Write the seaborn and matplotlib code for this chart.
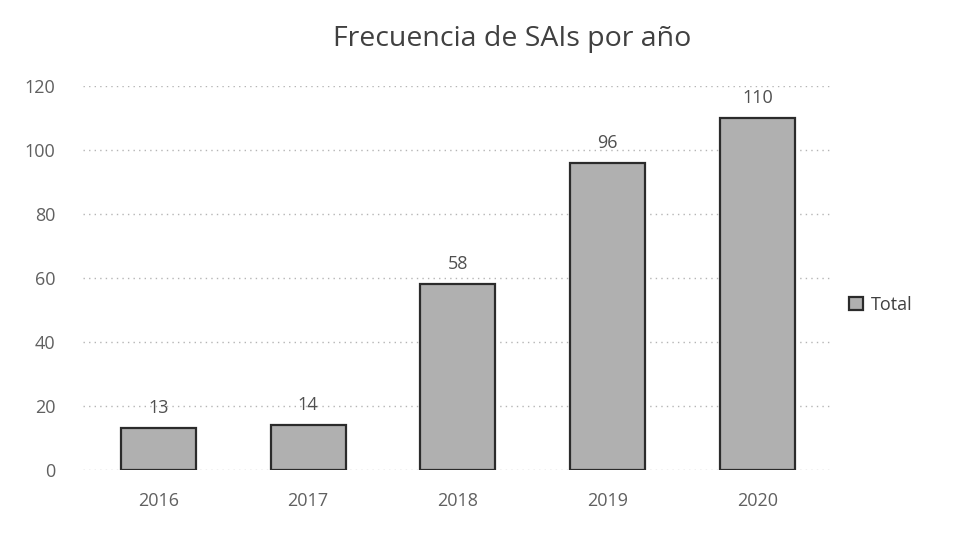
import pandas as pd
import matplotlib
matplotlib.use("Agg")
import matplotlib.pyplot as plt
import seaborn as sns

# data
years = ["2016", "2017", "2018", "2019", "2020"]
totals = [13, 14, 58, 96, 110]
y_ticks = [0, 20, 40, 60, 80, 100, 120]

df = pd.DataFrame({"year": years, "total": totals})

sns.set_style("white")
plt.rcParams["font.family"] = ["Open Sans", "DejaVu Sans"]

fig = plt.figure(figsize=(9.57, 5.57), dpi=100)
ax = fig.add_axes([0.087, 0.156, 0.783, 0.69])

sns.barplot(data=df, x="year", y="total", color="#b0b0b0", edgecolor="#2b2b2b",
            linewidth=1.6, width=0.5, saturation=1, label="Total", ax=ax)

ax.bar_label(ax.containers[0], padding=8, fontsize=13, color="#505050")

ax.set_ylim(0, 120)
ax.set_yticks(y_ticks)
ax.set_xlabel("")
ax.set_ylabel("")
ax.tick_params(axis="x", length=0, labelsize=13, labelcolor="#606060", pad=16)
ax.tick_params(axis="y", length=0, labelsize=13, labelcolor="#606060", pad=20)
ax.yaxis.grid(True, linestyle=(0, (1, 3)), color="#b5b5b5", linewidth=1)
ax.set_axisbelow(True)
for s in ax.spines.values():
    s.set_visible(False)

fig.suptitle("Frecuencia de SAIs por año", x=0.535, y=0.955, fontsize=20.5, color="#404040")

leg = ax.legend(loc="center left", bbox_to_anchor=(1.0, 0.43), frameon=False,
                fontsize=13, handlelength=0.8, handleheight=0.8, handletextpad=0.4)
for t in leg.get_texts():
    t.set_color("#404040")

fig.savefig("out.png", dpi=100)
